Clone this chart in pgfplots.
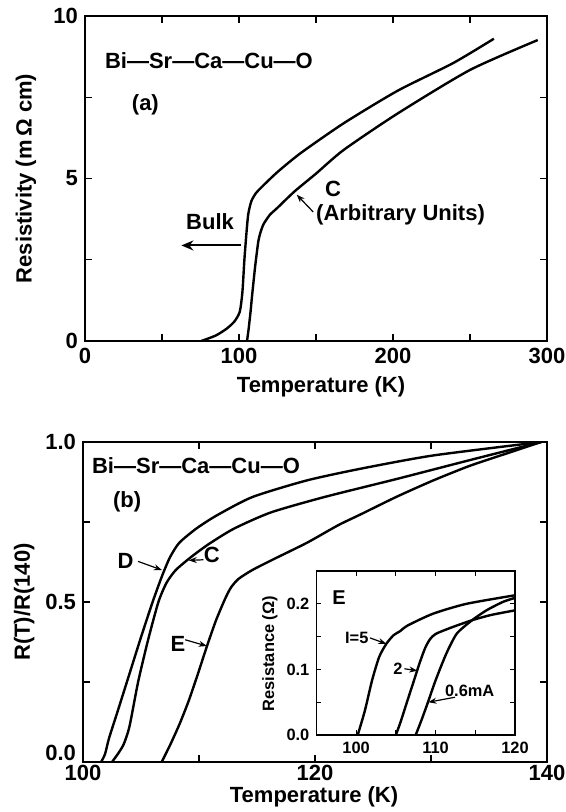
\documentclass[border=0pt]{standalone}
\usepackage{fontspec}
\setmainfont{Liberation Sans}
\usepackage{pgfplots}
\pgfplotsset{compat=1.18}
\usetikzlibrary{arrows.meta}

\newcommand{\mf}{\fontsize{11}{12.5}\selectfont\bfseries}
\newcommand{\insetfont}{\fontsize{8.2}{9.5}\selectfont\bfseries}

\pgfplotsset{
  panel/.style={
    scale only axis, anchor=south west,
    axis line style={line width=0.6pt},
    tick style={line width=0.6pt, black},
    tick align=inside, tick pos=both,
    major tick length=3.5pt,
    tick label style={font=\mf},
    label style={font=\mf, inner sep=0pt},
    every axis plot post/.append style={black, mark=none, line width=1.2pt, smooth, tension=0.4},
  },
}
\tikzset{
  lbl/.style={font=\mf, inner sep=0pt},
  sarr/.style={line width=0.6pt, -{Stealth[length=4pt,width=3pt]}},
}

\begin{document}
\begin{tikzpicture}
\path[use as bounding box] (0,0) rectangle (283pt,-406pt);

% (a)
\begin{axis}[panel, at={(42.5pt,-170.5pt)}, width=231pt, height=162.5pt,
  xmin=0, xmax=300, ymin=0, ymax=10,
  xtick={0,50,...,300}, xticklabels={0,,100,,200,,300},
  ytick={0,2.5,5,7.5,10}, yticklabels={0,,5,,10},
  xlabel={Temperature (K)}, ylabel={Resistivity (m\,Ω cm)},
  xlabel style={at={(axis description cs:0.511,-0.1415)}, anchor=center},
  ylabel style={at={(axis description cs:-0.1277,0.5)}, anchor=center},
]
% bulk
\addplot coordinates {(75.5,0) (85,0.17) (92,0.38) (97,0.6) (100.5,0.9) (102.2,1.5)
  (103.5,2.5) (104.8,3.3) (106,3.9) (108,4.3) (111,4.55) (115,4.75) (125,5.2)
  (140,5.78) (168,6.7) (203,7.7) (239,8.55) (265.5,9.3)};
% sample C
\addplot coordinates {(105.2,0) (106.2,0.35) (107.5,0.9) (108.5,1.4) (110.5,2.3)
  (112.5,3.05) (114,3.35) (116,3.6) (120,3.88) (125,4.1) (136,4.6) (150,5.15)
  (168,5.88) (203,7.0) (250,8.34) (294,9.26)};
\node[lbl] at (axis cs:80.5,8.64) {Bi—Sr—Ca—Cu—O};
\node[lbl] at (axis cs:39.2,7.28) {(a)};
\node[lbl] at (axis cs:81.2,3.68) {Bulk};
\draw[line width=1pt, -{Stealth[length=6pt,width=5pt]}] (axis cs:101.3,2.94) -- (axis cs:62.6,2.94);
\node[lbl] at (axis cs:161.1,4.69) {C};
\node[lbl] at (axis cs:204.9,3.87) {(Arbitrary Units)};
\draw[sarr] (axis cs:148.2,3.97) -- (axis cs:137.5,4.5);
\end{axis}

% (b)
\begin{axis}[panel, at={(41.5pt,-381pt)}, width=232pt, height=160pt,
  xmin=100, xmax=140, ymin=0, ymax=1,
  xtick={100,110,...,140}, xticklabels={100,,120,,140},
  xticklabel style={inner sep=0pt, yshift=-1.5pt},
  ytick={0,0.25,0.5,0.75,1}, yticklabels={\raisebox{9pt}{0.0},,0.5,,1.0},
  xlabel={Temperature (K)}, ylabel={R(T)/R(140)},
  xlabel style={at={(axis description cs:0.498,-0.11)}, anchor=center},
  ylabel style={at={(axis description cs:-0.127,0.5)}, anchor=center},
]
% D
\addplot coordinates {(101.56,0) (101.9,0.025) (102.25,0.075) (103,0.16) (104,0.275)
  (105,0.39) (106,0.5) (106.8,0.58) (107.5,0.64) (108.3,0.685) (109.75,0.729)
  (111.5,0.77) (114.6,0.828) (119.3,0.88) (124,0.917) (130.2,0.958) (139.5,1.0)};
% C
\addplot coordinates {(102.5,0) (103.0,0.025) (103.5,0.055) (104.0,0.11) (104.75,0.25)
  (105.6,0.38) (106.5,0.5) (107.2,0.56) (108.0,0.6) (109.3,0.64) (110.8,0.68)
  (113,0.729) (116.2,0.78) (120.8,0.828) (127.1,0.885) (133.3,0.943) (139.5,1.0)};
% E
\addplot coordinates {(106.78,0) (107.56,0.057) (108.34,0.12) (109.13,0.193) (109.91,0.276)
  (110.69,0.3625) (111.47,0.443) (112.25,0.51) (112.75,0.545) (113.4,0.572) (114.6,0.6)
  (116.5,0.635) (119.3,0.685) (122,0.74) (124,0.775) (127.1,0.83) (130.2,0.88)
  (133.3,0.925) (136.5,0.964) (139.5,1.0)};
\node[lbl] at (axis cs:109.74,0.927) {Bi—Sr—Ca—Cu—O};
\node[lbl] at (axis cs:103.8,0.8125) {(b)};
\node[lbl] at (axis cs:103.66,0.627) {D};
\draw[sarr] (axis cs:104.74,0.627) -- (axis cs:106.8,0.6);
\node[lbl] at (axis cs:111.1,0.646) {C};
\draw[sarr] (axis cs:110.37,0.632) -- (axis cs:109.12,0.63);
\node[lbl] at (axis cs:108.19,0.37) {E};
\draw[sarr] (axis cs:108.81,0.382) -- (axis cs:110.67,0.3625);
\end{axis}

% inset
\begin{axis}[panel, at={(158.2pt,-367.5pt)}, width=99.3pt, height=82pt,
  xmin=95, xmax=120, ymin=0, ymax=0.25,
  major tick length=2.5pt,
  xtick={100,105,...,120}, xticklabels={100,,110,,120},
  ytick={0,0.05,...,0.2}, yticklabels={0.0,,0.1,,0.2},
  tick label style={font=\insetfont},
  ylabel={Resistance (Ω)},
  ylabel style={font=\insetfont, at={(axis description cs:-0.234,0.496)}, anchor=center},
]
% I = 5
\addplot coordinates {(100.2,0) (101.1,0.037) (102.0,0.083) (102.9,0.119) (103.8,0.139)
  (104.7,0.152) (105.5,0.158) (106.5,0.167) (109.7,0.185) (113.9,0.2) (120,0.213)};
% I = 2
\addplot coordinates {(105.0,0) (105.6,0.02) (106.5,0.054) (107.2,0.08) (108.0,0.11)
  (108.7,0.133) (109.3,0.146) (110,0.154) (111.8,0.163) (114.6,0.175) (117,0.183) (120,0.19)};
% I = 0.6 mA
\addplot coordinates {(107.5,0) (108.3,0.025) (109.1,0.052) (109.9,0.08) (110.7,0.105)
  (111.5,0.128) (112.7,0.155) (114.6,0.175) (116.4,0.19) (118.5,0.203) (120,0.209)};
\node[lbl, font=\fontsize{10}{12}\selectfont\bfseries] at (axis cs:97.85,0.21) {E};
\node[lbl, font=\insetfont, anchor=east] at (axis cs:101.6,0.148) {I=5};
\draw[sarr] (axis cs:101.75,0.148) -- (axis cs:103.8,0.139);
\node[lbl, font=\insetfont, anchor=east] at (axis cs:105.9,0.101) {2};
\draw[sarr] (axis cs:106.08,0.101) -- (axis cs:107.7,0.098);
\node[lbl, font=\insetfont] at (axis cs:114.3,0.068) {0.6mA};
\draw[sarr] (axis cs:112.45,0.0576) -- (axis cs:109.1,0.05);
\end{axis}
\end{tikzpicture}
\end{document}
